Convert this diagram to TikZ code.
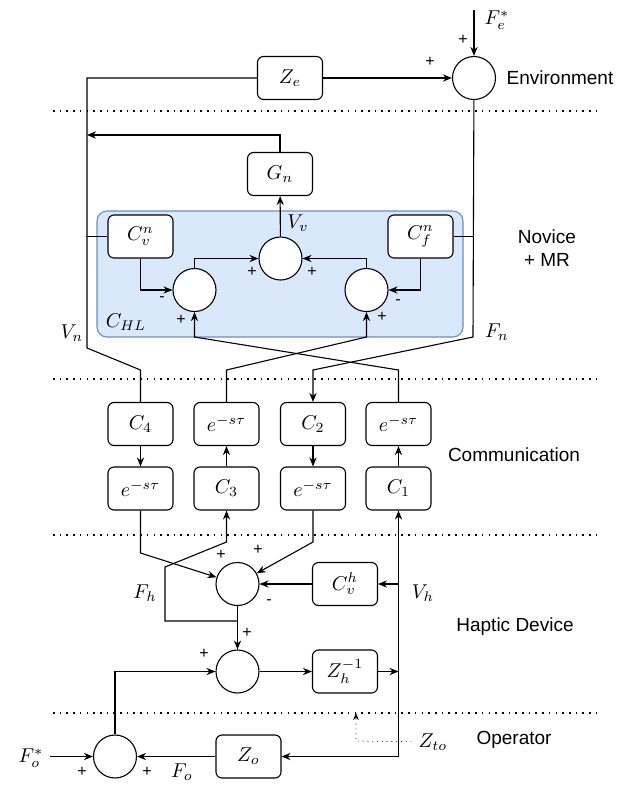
\documentclass[tikz,border=0pt]{standalone}
\usepackage{fontspec}
\setsansfont{Liberation Sans}
\usepackage{tikz}
\usetikzlibrary{arrows.meta,%
                shapes,positioning}

\definecolor{mrfill}{HTML}{DAE8FC}
\definecolor{mrdraw}{HTML}{6C8EBF}

\begin{document}
\begin{tikzpicture}[x=0.5pt,y=-0.5pt,line width=0.55pt,
  >={Stealth[length=4.5pt,width=3.6pt]},
  blk/.style={draw,rounded corners=3pt,fill=white,minimum width=32.5pt,minimum height=21.5pt,inner sep=1pt},
  sum/.style={draw,circle,fill=white,minimum size=21.5pt,inner sep=0pt},
  sgn/.style={font=\sffamily\fontsize{8}{9}\selectfont,inner sep=0pt},
  sec/.style={font=\sffamily\fontsize{9.5}{11.5}\selectfont,align=center},
  sep/.style={line width=0.8pt,dash pattern=on 0.8pt off 2.55pt}]
\useasboundingbox (0,0) rectangle (635,788);

\node[draw=mrdraw,fill=mrfill,rounded corners=5pt,minimum width=183pt,minimum height=63pt] (HL) at (280,274) {};

\draw[sep] (53,111) -- (598,111);
\draw[sep] (53,379) -- (598,379);
\draw[sep] (53,535) -- (598,535);
\draw[sep] (53,713) -- (598,713);

\node[blk] (Ze) at (290,78) {$Z_e$};
\node[sum] (es) at (474,78) {};
\node[blk] (Gn) at (280,174) {$G_n$};
\node[blk] (Cvn) at (140.5,236.5) {$C_v^n$};
\node[blk] (Cfn) at (420.5,236.5) {$C_f^n$};
\node[sum] (vs) at (280.5,258.5) {};
\node[sum] (ls) at (194.5,290) {};
\node[sum] (rs) at (366.5,290) {};
\node[blk] (C4) at (140.5,424) {$C_4$};
\node[blk] (D2) at (226.5,424) {$e^{-s\tau}$};
\node[blk] (C2) at (313,424) {$C_2$};
\node[blk] (D4) at (398.5,424) {$e^{-s\tau}$};
\node[blk] (D1) at (140.5,488.5) {$e^{-s\tau}$};
\node[blk] (C3) at (226.5,488.5) {$C_3$};
\node[blk] (D3) at (313,488.5) {$e^{-s\tau}$};
\node[blk] (C1) at (398.5,488.5) {$C_1$};
\node[sum] (hs) at (237.5,584) {};
\node[blk] (Cvh) at (345,584) {$C_v^h$};
\node[sum] (ms) at (237.5,671.5) {};
\node[blk] (Zh) at (345,671.5) {$Z_h^{-1}$};
\node[sum] (os) at (115,756.5) {};
\node[blk] (Zo) at (248.5,756.5) {$Z_o$};

\coordinate (Fe0) at (474,10);
\coordinate (vn0) at (87,78);
\coordinate (vn1) at (87,348);
\coordinate (vn2) at (140.5,370);
\coordinate (gn0) at (87,135);
\coordinate (fn0) at (473,337);
\coordinate (fn1) at (313,370);
\coordinate (c2a) at (226.5,370);
\coordinate (c2b) at (366.5,337);
\coordinate (c4a) at (398.5,370);
\coordinate (c4b) at (194.5,337);
\coordinate (h1) at (140.5,553);
\coordinate (h3) at (313,542);
\coordinate (fh0) at (237.5,621);
\coordinate (fh1) at (165,621);
\coordinate (fh2) at (165,567);
\coordinate (fh3) at (226.5,542);
\coordinate (vh) at (398.5,756.5);
\coordinate (Fo0) at (50,756.5);
\coordinate (zt0) at (356,741);
\coordinate (zt1) at (356,713);

\node (lFe) at (497,20) {$F_e^*$};
\node (lVv) at (298,223) {$V_v$};
\node (lCHL) at (126,322) {$C_{HL}$};
\node (lVn) at (72,333) {$V_n$};
\node (lFn) at (497,332) {$F_n$};
\node (lFh) at (145,593) {$F_h$};
\node (lVh) at (423,593) {$V_h$};
\node (lFos) at (31,758) {$F_o^*$};
\node (lFo) at (182,772) {$F_o$};
\node (lZto) at (433,742) {$Z_{to}$};

\node[sec] (sEnv) at (560,78) {Environment};
\node[sec] (sNov) at (547,248) {Novice\\+ MR};
\node[sec] (sCom) at (514,455) {Communication};
\node[sec] (sHap) at (515,627) {Haptic Device};
\node[sec] (sOp) at (514,740) {Operator};

\node[sgn] (p1) at (463,40) {+};
\node[sgn] (p2) at (430,62) {+};
\node[sgn] (p3) at (252,272) {+};
\node[sgn] (p4) at (312,272) {+};
\node[sgn] (m1) at (162,299) {-};
\node[sgn] (m2) at (398,302) {-};
\node[sgn] (p5) at (181,320) {+};
\node[sgn] (p6) at (382,317) {+};
\node[sgn] (p7) at (221,555) {+};
\node[sgn] (p8) at (258,550) {+};
\node[sgn] (m3) at (269,602) {-};
\node[sgn] (p9) at (247,633) {+};
\node[sgn] (p10) at (204,654) {+};
\node[sgn] (p11) at (82,772) {+};
\node[sgn] (p12) at (147,772) {+};

\draw[->] (Fe0) -- (es);
\draw[->] (Ze) -- (es);
\draw (Ze) -- (vn0) -- (vn1) -- (vn2) -- (C4);
\draw (Cvn) -- (Cvn -| vn0);
\draw[->] (Gn) |- (gn0);
\draw[->] (vs) -- (Gn);
\draw[->] (Cvn) |- (ls);
\draw[->] (ls) |- (vs);
\draw[->] (rs) |- (vs);
\draw[->] (Cfn) |- (rs);
\draw (Cfn) -- (Cfn -| fn0);
\draw[->] (es) -- (fn0) -- (fn1) -- (C2);
\draw[->] (D2) -- (c2a) -- (c2b) -- (rs);
\draw[->] (D4) -- (c4a) -- (c4b) -- (ls);
\draw[->] (C4) -- (D1);
\draw[->] (C3) -- (D2);
\draw[->] (C2) -- (D3);
\draw[->] (C1) -- (D4);
\draw[->] (D1) -- (h1) -- (hs);
\draw[->] (D3) -- (h3) -- (hs);
\draw[->] (fh0) -- (fh1) -- (fh2) -- (fh3) -- (C3);
\draw[->] (hs) -- (ms);
\draw[->] (Cvh) -- (hs);
\draw[->] (Cvh -| vh) -- (Cvh);
\draw[->] (ms) -- (Zh);
\draw[->] (Zh) -- (Zh -| vh);
\draw[->] (os) |- (ms);
\draw[->] (Fo0) -- (os);
\draw[->] (Zo) -- (os);
\draw[->] (vh) -- (C1);
\draw[->] (vh) -- (Zo);
\draw[line width=0.4pt,dotted,-{Stealth[length=3.5pt,width=2.8pt]}] (lZto) -- (zt0) -- (zt1);
\end{tikzpicture}
\end{document}
